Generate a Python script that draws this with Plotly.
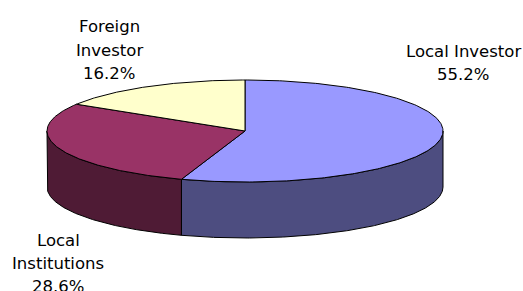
import numpy as np
import plotly.graph_objects as go

# ---- data ----
categories = ["Local Investor", "Local Institutions", "Foreign Investor"]
shares = [55.2, 28.6, 16.2]
label_lines = [["Local Investor"], ["Local", "Institutions"], ["Foreign", "Investor"]]

# ---- style / layout ----
top_colors = ["#9999FF", "#993366", "#FFFFCC"]
side_colors = ["#4D4D80", "#4F1B35", "#80806A"]
W, H = 523, 291
CX, CY, RX, RY, DEPTH = 245, 131, 198, 51, 56
FS = 16.5
# label anchor: (center x, baselines of each line incl. percent line)
label_pos = [(463, [57, 80]), (58, [246, 269, 292]), (109, [32, 56, 79])]


def arc(a0, a1, n=240, dy=0.0):
    t = np.radians(np.linspace(a0, a1, n))
    return CX + RX * np.sin(t), CY - RY * np.cos(t) + dy


fig = go.Figure()
cum = np.concatenate([[0.0], np.cumsum(shares)]) / sum(shares) * 360.0

# side walls (front half only)
for i in range(len(shares)):
    a0, a1 = max(cum[i], 90.0), min(cum[i + 1], 270.0)
    if a1 > a0:
        xt, yt = arc(a0, a1)
        xb, yb = arc(a1, a0, dy=DEPTH)
        fig.add_trace(go.Scatter(
            x=np.r_[xt, xb, xt[:1]], y=np.r_[yt, yb, yt[:1]],
            mode="lines", fill="toself", fillcolor=side_colors[i],
            line=dict(color="#000000", width=1),
            hoverinfo="skip", showlegend=False))

# top faces
for i in range(len(shares)):
    xt, yt = arc(cum[i], cum[i + 1])
    fig.add_trace(go.Scatter(
        x=np.r_[CX, xt, CX], y=np.r_[CY, yt, CY],
        mode="lines", fill="toself", fillcolor=top_colors[i],
        line=dict(color="#000000", width=1),
        name=categories[i], hoverinfo="name", showlegend=False))

# labels
for i in range(len(shares)):
    lines = label_lines[i] + [f"{shares[i]:.1f}%"]
    x0, baselines = label_pos[i]
    for txt, b in zip(lines, baselines):
        fig.add_annotation(x=x0, y=b - 0.36 * FS, text=txt, showarrow=False,
                           xanchor="center", yanchor="middle",
                           font=dict(family="DejaVu Sans", size=FS, color="#000000"))

fig.update_layout(
    width=W, height=H, autosize=False,
    margin=dict(l=0, r=0, t=0, b=0),
    paper_bgcolor="white", plot_bgcolor="white",
    xaxis=dict(range=[0, W], visible=False, fixedrange=True),
    yaxis=dict(range=[H, 0], visible=False, fixedrange=True),
)

fig.write_html("out.html", config={"displayModeBar": False},
               post_script="document.body.style.margin='0';document.body.style.overflow='hidden';")
